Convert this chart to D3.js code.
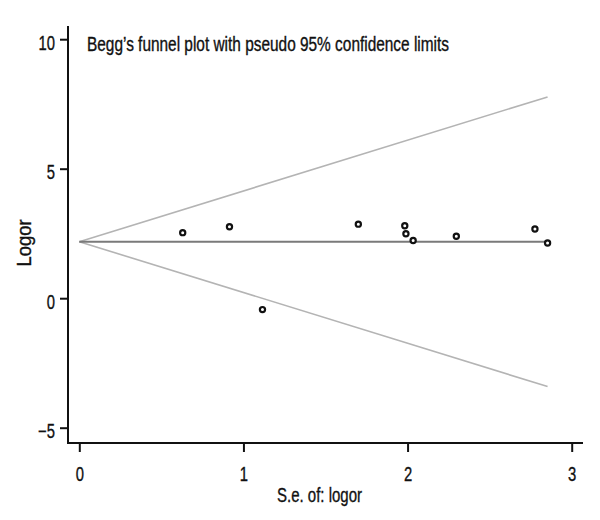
<!DOCTYPE html>
<html><head><meta charset="utf-8">
<script src="https://cdn.jsdelivr.net/npm/d3@7"></script>
<style>
body{margin:0;background:#fff;}
text{font-family:"Liberation Sans",Arial,sans-serif;fill:#111;stroke:#111;stroke-width:0.35px;}
</style></head>
<body><svg id="c" width="600" height="520"></svg>
<script>
const seValues = [0.63, 0.915, 1.116, 1.70, 1.983, 1.99, 2.034, 2.297, 2.776, 2.853];
const logorValues = [2.53, 2.76, -0.44, 2.86, 2.80, 2.49, 2.23, 2.39, 2.67, 2.13];
const pooledLogor = 2.18;
const xTicks = [0, 1, 2, 3];
const yTicks = [-5, 0, 5, 10];
const titleText = "Begg\u2019s funnel plot with pseudo 95% confidence limits";
const xLabel = "S.e. of: logor";
const yLabel = "Logor";

const condense = 0.74;
function squeeze(sel) {
  sel.each(function() {
    const w = this.getComputedTextLength();
    d3.select(this).attr("textLength", w * condense).attr("lengthAdjust", "spacingAndGlyphs");
  });
}

const svg = d3.select("#c");
const x = d3.scaleLinear().domain([0, 3]).range([79.3, 571.7]);
const y = d3.scaleLinear().domain([-5, 10]).range([427.7, 39.2]);
const axisX0 = 68, axisY0 = 443;

svg.append("line").attr("x1", axisX0).attr("x2", axisX0).attr("y1", 26).attr("y2", axisY0+1)
  .attr("stroke", "#111").attr("stroke-width", 2);
svg.append("line").attr("x1", axisX0-1).attr("x2", 583).attr("y1", axisY0).attr("y2", axisY0)
  .attr("stroke", "#111").attr("stroke-width", 2);

const yAxis = d3.axisLeft(y).tickValues(yTicks).tickSize(8).tickPadding(5)
  .tickFormat(d => d < 0 ? "\u2212" + Math.abs(d) : String(d));
const gy = svg.append("g").attr("transform", `translate(${axisX0},0)`).call(yAxis);
gy.select(".domain").remove();
gy.selectAll(".tick line").attr("stroke", "#111").attr("stroke-width", 2);
gy.selectAll(".tick text").style("font-size", "20px").attr("fill", "#111").attr("dy", "0.5em").call(squeeze);

const xAxis = d3.axisBottom(x).tickValues(xTicks).tickSize(9).tickPadding(15).tickFormat(d => String(d));
const gx = svg.append("g").attr("transform", `translate(0,${axisY0})`).call(xAxis);
gx.select(".domain").remove();
gx.selectAll(".tick line").attr("stroke", "#111").attr("stroke-width", 2);
gx.selectAll(".tick text").style("font-size", "20px").attr("fill", "#111").call(squeeze);

const maxSe = d3.max(seValues);
const upper = [[0, pooledLogor], [maxSe, pooledLogor + 1.96 * maxSe]];
const lower = [[0, pooledLogor], [maxSe, pooledLogor - 1.96 * maxSe]];
const line = d3.line().x(d => x(d[0])).y(d => y(d[1]));
svg.append("path").attr("d", line(upper)).attr("fill", "none").attr("stroke", "#b4b4b4").attr("stroke-width", 1.6);
svg.append("path").attr("d", line(lower)).attr("fill", "none").attr("stroke", "#b4b4b4").attr("stroke-width", 1.6);
svg.append("path").attr("d", line([[0, pooledLogor], [maxSe, pooledLogor]])).attr("fill", "none")
  .attr("stroke", "#7a7a7a").attr("stroke-width", 2);

svg.selectAll("circle.pt").data(seValues.map((s, i) => [s, logorValues[i]])).join("circle")
  .attr("class", "pt").attr("cx", d => x(d[0])).attr("cy", d => y(d[1])).attr("r", 2.6)
  .attr("fill", "#fff").attr("stroke", "#111").attr("stroke-width", 2.2);

svg.append("text").attr("x", 87).attr("y", 51).style("font-size", "19.5px")
  .attr("textLength", 362).attr("lengthAdjust", "spacingAndGlyphs").text(titleText);
svg.append("text").attr("x", 277).attr("y", 502).style("font-size", "19.5px")
  .attr("textLength", 85).attr("lengthAdjust", "spacingAndGlyphs").text(xLabel);
svg.append("text").attr("transform", "translate(31,266.5) rotate(-90)")
  .style("font-size", "19.5px").attr("textLength", 47).attr("lengthAdjust", "spacingAndGlyphs").text(yLabel);
</script></body></html>
